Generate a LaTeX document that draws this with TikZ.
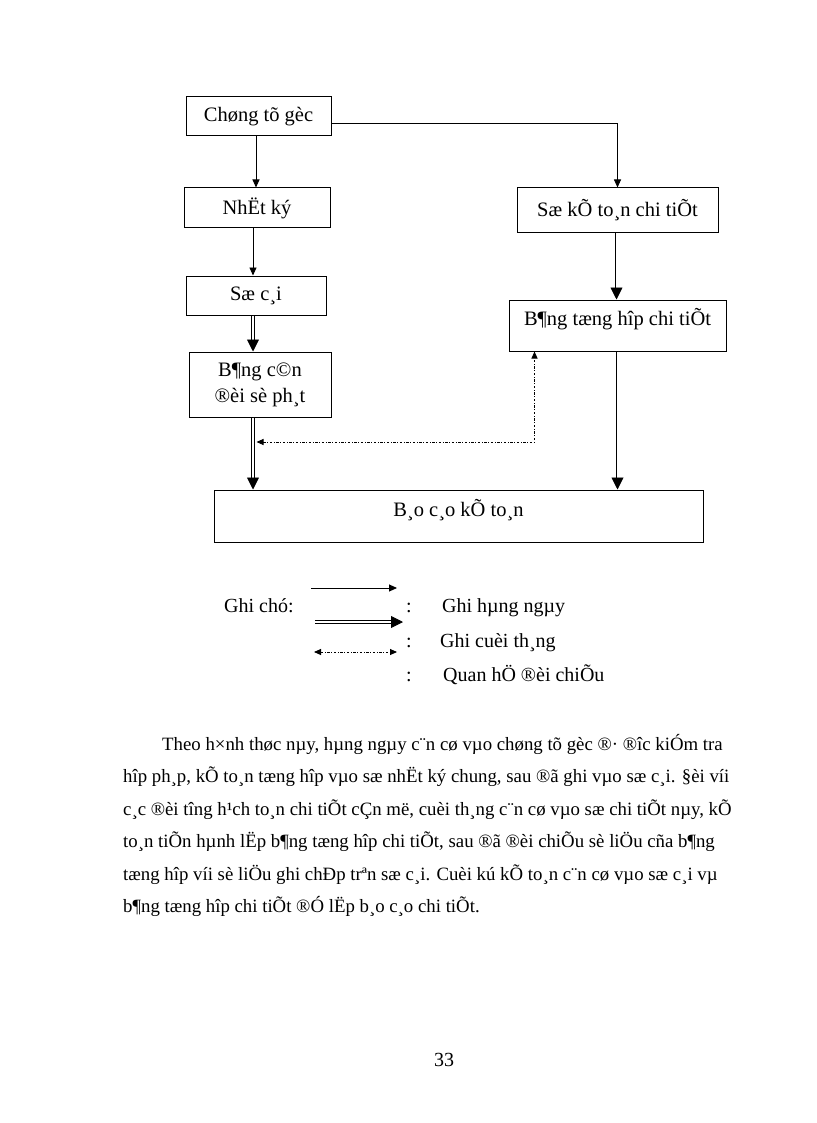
\documentclass[tikz,border=0pt]{standalone}
\usepackage{fontspec}
\setmainfont{Liberation Serif}
\usetikzlibrary{arrows.meta}

\begin{document}
\begin{tikzpicture}[x=1pt, y=-1pt]
    \tikzstyle{box} = [draw=black, line width=1pt, inner sep=0pt, align=center, font=\fontsize{20.5}{26}\selectfont]
    \tikzstyle{thinarrow} = [line width=0.9pt, -{Triangle[width=7pt,length=8pt]}]
    \tikzstyle{dblarrow} = [double, double distance=2pt, line width=0.9pt, -{Triangle[width=12pt,length=12pt]}]
    \tikzstyle{dotarrow} = [line width=0.9pt, dash pattern=on 2.5pt off 1.5pt on 1pt off 1.5pt, {Triangle[width=6pt,length=7pt]}-{Triangle[width=6pt,length=7pt]}]
    \tikzstyle{txt} = [inner sep=0pt, font=\fontsize{20}{24}\selectfont]
    \tikzstyle{para} = [inner sep=0pt, font=\fontsize{18.8}{24}\selectfont]

    \useasboundingbox[fill=white] (0,0) rectangle (816,1123);

    % Left column
    \node[box, minimum width=145pt, minimum height=39pt] (goc) at (258.5,116.5) {Chøng tõ gèc};
    \node[box, minimum width=146pt, minimum height=40pt] (nhatky) at (257,208) {NhËt ký};
    \node[box, minimum width=140pt, minimum height=39pt] (socai) at (256,295.5) {Sæ c¸i};
    \node[box, minimum width=142pt, minimum height=65pt] (candoi) at (260,384.5) {B¶ng c©n\\®èi sè ph¸t};

    % Right column
    \node[box, minimum width=201pt, minimum height=45pt] (sochitiet) at (617.5,210.5) {Sæ kÕ to¸n chi tiÕt};
    \node[box, minimum width=217pt, minimum height=51pt, text height=15pt, text depth=15pt] (tonghop) at (617.5,325.5) {B¶ng tæng hîp chi tiÕt};

    % Report
    \node[box, minimum width=489pt, minimum height=52pt, text height=15pt, text depth=15pt] (baocao) at (458.5,516) {B¸o c¸o kÕ to¸n};

    % Connectors
    \draw[thinarrow] ([xshift=-2.5pt]goc.south) -- ([xshift=-2.5pt]goc.south |- nhatky.north);
    \draw[thinarrow] ([yshift=-6.5pt]goc.east) -| (sochitiet.north);
    \draw[thinarrow] ([xshift=-4pt]nhatky.south) -- ([xshift=-4pt]nhatky.south |- socai.north);
    \draw[dblarrow] ([xshift=-3pt]socai.south) -- ([xshift=-3pt]socai.south |- candoi.north);
    \draw[dblarrow] ([xshift=-7pt]candoi.south) -- ([xshift=-7pt]candoi.south |- baocao.north);
    \draw[dblarrow] ([xshift=-1pt]sochitiet.south) -- ([xshift=-1pt]sochitiet.south |- tonghop.north);
    \draw[dblarrow] (tonghop.south) -- (tonghop.south |- baocao.north);
    \coordinate (doiend) at (256.5,442);
    \draw[dotarrow] (doiend) -| ([xshift=26pt]tonghop.south west);

    % Legend
    \node[txt, anchor=base west] (ghichu) at (224,612) {Ghi chó:};
    \coordinate (l1a) at (311,588);
    \coordinate (l1b) at (397,588);
    \coordinate (l2a) at (315,622);
    \coordinate (l2b) at (403,622);
    \coordinate (l3a) at (314,652);
    \coordinate (l3b) at (397,652);
    \draw[thinarrow] (l1a) -- (l1b);
    \draw[dblarrow] (l2a) -- (l2b);
    \draw[dotarrow] (l3a) -- (l3b);
    \node[txt, anchor=base west] (c1) at (406,612) {:};
    \node[txt, anchor=base west] (t1) at (442,612) {Ghi hµng ngµy};
    \node[txt, anchor=base west] (c2) at (406,647) {:};
    \node[txt, anchor=base west] (t2) at (440,647) {Ghi cuèi th¸ng};
    \node[txt, anchor=base west] (c3) at (406,681) {:};
    \node[txt, anchor=base west] (t3) at (443,681) {Quan hÖ ®èi chiÕu};

    % Paragraph
    \node[para, anchor=base west] (p1) at (162,750) {Theo h×nh thøc nµy, hµng ngµy c¨n cø vµo chøng tõ gèc ®· ®îc kiÓm tra};
    \node[para, anchor=base west] (p2) at (123,782.5) {hîp ph¸p, kÕ to¸n tæng hîp vµo sæ nhËt ký chung, sau ®ã ghi vµo sæ c¸i. §èi víi};
    \node[para, anchor=base west] (p3) at (123,815) {c¸c ®èi tîng h¹ch to¸n chi tiÕt cÇn më, cuèi th¸ng c¨n cø vµo sæ chi tiÕt nµy, kÕ};
    \node[para, anchor=base west] (p4) at (123,847.5) {to¸n tiÕn hµnh lËp b¶ng tæng hîp chi tiÕt, sau ®ã ®èi chiÕu sè liÖu cña b¶ng};
    \node[para, anchor=base west] (p5) at (123,880) {tæng hîp víi sè liÖu ghi chÐp trªn sæ c¸i. Cuèi kú kÕ to¸n c¨n cø vµo sæ c¸i vµ};
    \node[para, anchor=base west] (p6) at (123,912.5) {b¶ng tæng hîp chi tiÕt ®Ó lËp b¸o c¸o chi tiÕt.};

    % Page number
    \node[txt, anchor=base] (trang) at (444,1066) {33};
\end{tikzpicture}
\end{document}
